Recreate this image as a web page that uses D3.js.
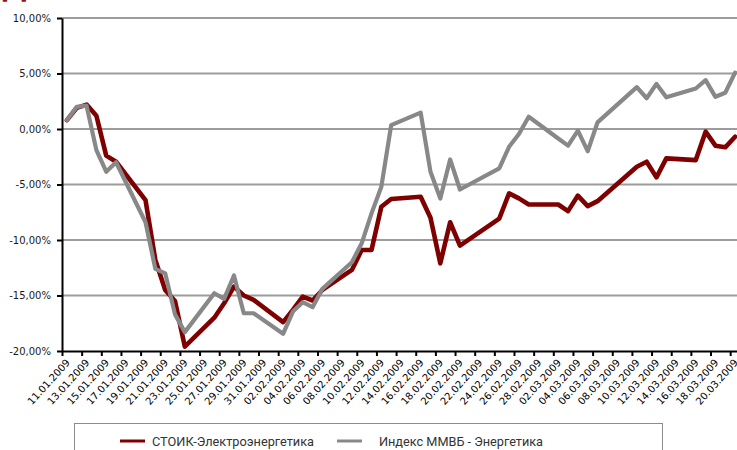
<!DOCTYPE html>
<html>
<head>
<meta charset="utf-8">
<script src="https://cdn.jsdelivr.net/npm/d3@7/dist/d3.min.js"></script>
<style>
  body { margin: 0; background: #fff; }
  svg { display: block; }
</style>
</head>
<body>
<svg id="chart" width="737" height="450"></svg>
<script>
// Trading days, 11.01.2009 – 20.03.2009
const tradeDates = [
  "11.01.2009","12.01.2009","13.01.2009","14.01.2009","15.01.2009","16.01.2009",
  "19.01.2009","20.01.2009","21.01.2009","22.01.2009","23.01.2009",
  "26.01.2009","27.01.2009","28.01.2009","29.01.2009","30.01.2009",
  "02.02.2009","03.02.2009","04.02.2009","05.02.2009","06.02.2009",
  "09.02.2009","10.02.2009","11.02.2009","12.02.2009","13.02.2009",
  "16.02.2009","17.02.2009","18.02.2009","19.02.2009","20.02.2009",
  "24.02.2009","25.02.2009","26.02.2009","27.02.2009",
  "02.03.2009","03.03.2009","04.03.2009","05.03.2009","06.03.2009",
  "10.03.2009","11.03.2009","12.03.2009","13.03.2009",
  "16.03.2009","17.03.2009","18.03.2009","19.03.2009","20.03.2009"
];

// Cumulative change, %
const stoikValues = [
  0.8, 1.9, 2.2, 1.2, -2.4, -2.95,
  -6.4, -11.8, -14.5, -15.5, -19.6,
  -17.0, -15.7, -14.2, -15.0, -15.4,
  -17.4, -16.3, -15.1, -15.45, -14.5,
  -12.7, -10.9, -10.9, -7.0, -6.3,
  -6.1, -8.0, -12.1, -8.4, -10.5,
  -8.07, -5.8, -6.25, -6.8,
  -6.8, -7.4, -6.0, -6.95, -6.5,
  -3.4, -2.95, -4.36, -2.65,
  -2.8, -0.24, -1.5, -1.65, -0.7
];
const micexValues = [
  0.8, 2.0, 2.1, -1.9, -3.85, -3.0,
  -8.4, -12.6, -13.0, -16.7, -18.3,
  -14.8, -15.3, -13.2, -16.6, -16.6,
  -18.45, -16.45, -15.6, -16.05, -14.4,
  -12.0, -10.3, -7.6, -5.2, 0.35,
  1.47, -3.85, -6.26, -2.74, -5.45,
  -3.55, -1.6, -0.45, 1.1,
  -0.85, -1.5, -0.15, -2.0, 0.6,
  3.77, 2.77, 4.06, 2.86,
  3.65, 4.4, 2.9, 3.27, 5.08
];

const yTickValues = [-20, -15, -10, -5, 0, 5, 10];
const xTickLabels = [
  "11.01.2009","13.01.2009","15.01.2009","17.01.2009","19.01.2009","21.01.2009",
  "23.01.2009","25.01.2009","27.01.2009","29.01.2009","31.01.2009",
  "02.02.2009","04.02.2009","06.02.2009","08.02.2009","10.02.2009","12.02.2009",
  "14.02.2009","16.02.2009","18.02.2009","20.02.2009","22.02.2009","24.02.2009",
  "26.02.2009","28.02.2009",
  "02.03.2009","04.03.2009","06.03.2009","08.03.2009","10.03.2009","12.03.2009",
  "14.03.2009","16.03.2009","18.03.2009","20.03.2009"
];
const seriesNames = ["СТОИК-Электроэнергетика", "Индекс ММВБ - Энергетика"];
const seriesColors = ["#7e0000", "#888888"];

const svg = d3.select("#chart");
const parse = d3.timeParse("%d.%m.%Y");
const DAY = 864e5;

const firstDay = parse(tradeDates[0]);
const lastDay = parse(tradeDates[tradeDates.length - 1]);

// Each calendar day occupies one slot; points sit in the middle of their slot
const x = d3.scaleTime()
  .domain([new Date(+firstDay - DAY / 2), new Date(+lastDay + DAY / 2)])
  .range([62, 740]);
const y = d3.scaleLinear().domain([-20, 10]).range([351, 18]);

const ruLocale = d3.formatLocale({
  decimal: ",", thousands: " ", grouping: [3], currency: ["", ""], minus: "-"
});
const pct = v => ruLocale.format(".2f")(v) + "%";

// Partly visible heading above the plot
svg.append("text")
  .attr("x", 1).attr("y", -3)
  .attr("font-family", "DejaVu Sans").attr("font-weight", "bold")
  .attr("font-size", 30).attr("fill", "#8b1414")
  .text("Д");

// Horizontal gridlines
svg.append("g")
  .selectAll("line")
  .data(yTickValues.filter(v => v > -20))
  .join("line")
  .attr("x1", 62).attr("x2", 737)
  .attr("y1", d => y(d)).attr("y2", d => y(d))
  .attr("stroke", "#9c9c9c").attr("stroke-width", 2);

// Series lines
const series = [
  { name: seriesNames[0], values: stoikValues, color: seriesColors[0], width: 4.6 },
  { name: seriesNames[1], values: micexValues, color: seriesColors[1], width: 4.2 }
];
const line = d3.line()
  .x((d, i) => x(parse(tradeDates[i])))
  .y(d => y(d));

svg.append("g")
  .selectAll("path")
  .data(series)
  .join("path")
  .attr("d", s => line(s.values))
  .attr("fill", "none")
  .attr("stroke", s => s.color)
  .attr("stroke-width", s => s.width)
  .attr("stroke-linejoin", "round")
  .attr("stroke-linecap", "round");

// Y axis
const yAxis = svg.append("g")
  .attr("transform", "translate(62,0)")
  .call(d3.axisLeft(y).tickValues(yTickValues).tickSize(5).tickSizeOuter(0).tickFormat(pct));
yAxis.select(".domain").attr("stroke", "#000").attr("stroke-width", 2);
yAxis.selectAll(".tick line").attr("stroke", "#000").attr("stroke-width", 2);
yAxis.selectAll(".tick text")
  .attr("x", -11)
  .attr("font-family", "DejaVu Sans").attr("font-size", 10).attr("fill", "#1a1a1a");

// X axis: tick marks on slot boundaries every two days
const boundaryTicks = xTickLabels.map(s => new Date(+parse(s) - DAY / 2));
const xAxis = svg.append("g")
  .attr("transform", "translate(0,351)")
  .call(d3.axisBottom(x).tickValues(boundaryTicks).tickSize(5).tickSizeOuter(0).tickFormat(""));
xAxis.select(".domain").attr("stroke", "#000").attr("stroke-width", 2);
xAxis.selectAll(".tick line").attr("stroke", "#000").attr("stroke-width", 2);

// X labels, centred on their day slot, slanted
const labelAxis = svg.append("g")
  .attr("transform", "translate(0,351)")
  .call(d3.axisBottom(x).tickValues(xTickLabels.map(parse)).tickSize(0)
    .tickFormat((d, i) => xTickLabels[i]));
labelAxis.select(".domain").remove();
labelAxis.selectAll(".tick text")
  .attr("x", 0).attr("y", 0).attr("dy", 0)
  .attr("text-anchor", "end")
  .attr("transform", "translate(3,12) rotate(-48)")
  .attr("font-family", "DejaVu Sans")
  .attr("font-size", 10).attr("fill", "#000");

// Legend
const legend = svg.append("g");
legend.append("rect")
  .attr("x", 74.5).attr("y", 423.5).attr("width", 588).attr("height", 40)
  .attr("fill", "#fff").attr("stroke", "#8c8c8c").attr("stroke-width", 1);
const legendX = [[120, 152, 162], [337, 379, 164]];
series.forEach((s, i) => {
  legend.append("line")
    .attr("x1", legendX[i][0]).attr("x2", legendX[i][0] + 25)
    .attr("y1", 441).attr("y2", 441)
    .attr("stroke", s.color).attr("stroke-width", 3);
  legend.append("text")
    .attr("x", legendX[i][1]).attr("y", 441)
    .attr("dominant-baseline", "central")
    .attr("font-family", "Roboto").attr("font-size", 13)
    .attr("textLength", legendX[i][2]).attr("lengthAdjust", "spacingAndGlyphs")
    .attr("fill", "#333")
    .text(s.name);
});
</script>
</body>
</html>
